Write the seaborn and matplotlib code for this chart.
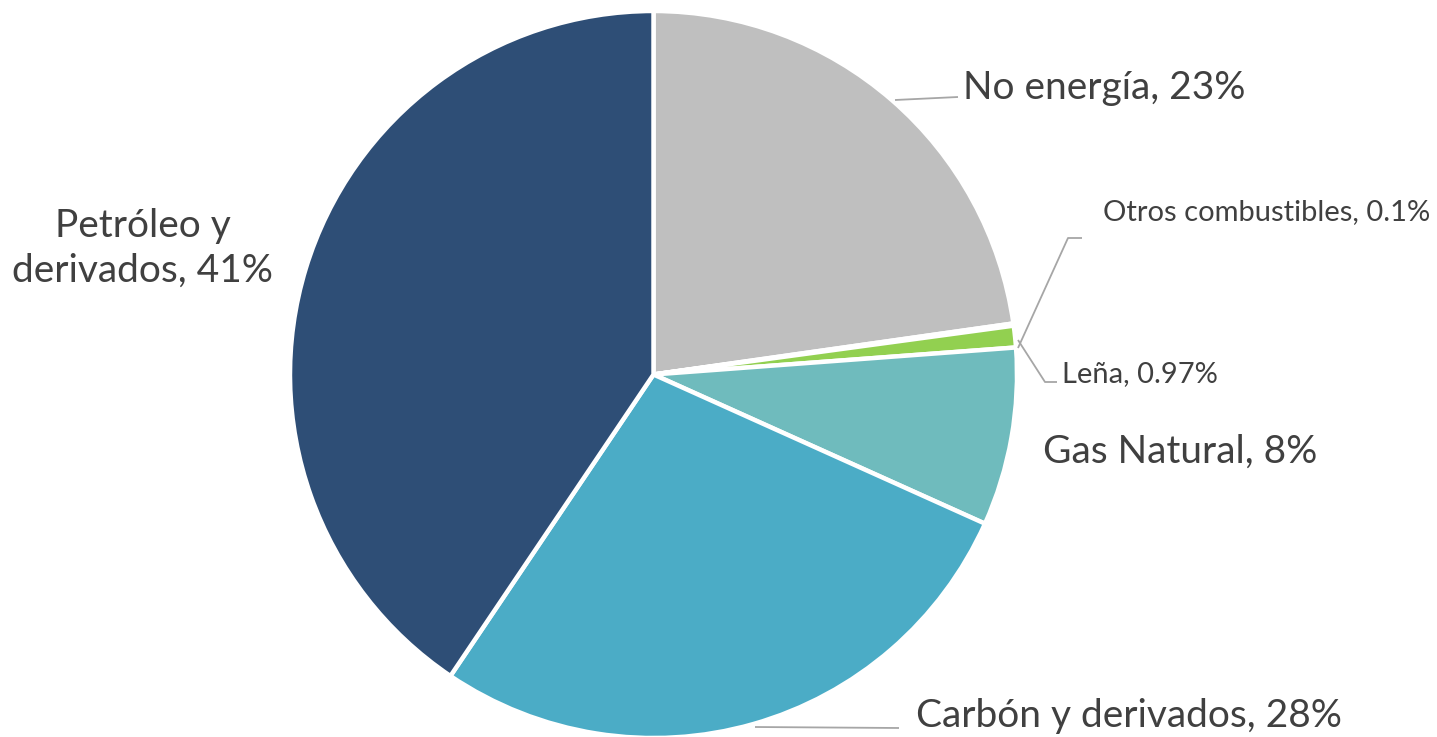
import matplotlib
matplotlib.use("Agg")
import matplotlib.pyplot as plt
import seaborn as sns

# Shares of emissions by source (%)
categories = ["No energía", "Otros combustibles", "Leña", "Gas Natural",
              "Carbón y derivados", "Petróleo y derivados"]
values = [23, 0.1, 0.97, 8, 28, 41]
value_labels = ["23%", "0.1%", "0.97%", "8%", "28%", "41%"]
colors = ["#BFBFBF", "#A9D18E", "#92D050", "#6FBBBD", "#4BACC6", "#2E4E76"]

sns.set_theme(style="white")
plt.rcParams["font.family"] = ["Lato", "DejaVu Sans"]

W, H = 1437, 737
fig = plt.figure(figsize=(W / 100, H / 100), dpi=100)
ax = fig.add_axes([0, 0, 1, 1])

cx, cy, r = 653.5, H - 374.5, 363.5
ax.pie(values, colors=colors, startangle=90, counterclock=False,
       center=(cx, cy), radius=r, frame=True,
       wedgeprops=dict(edgecolor="white", linewidth=3.2))
ax.set_xlim(0, W)
ax.set_ylim(0, H)
ax.set_aspect("equal")
ax.axis("off")

txt = "#404040"
lc = "#A6A6A6"

def py(y):
    return H - y

big = 28
small = 21

# label text positions (left x, centre y) in pixel space
label_pos = {
    "No energía": (963, 88, big),
    "Otros combustibles": (1103, 212, small),
    "Leña": (1062, 374, small),
    "Gas Natural": (1043, 452, big),
    "Carbón y derivados": (916, 716, big),
}
for cat, val in zip(categories, value_labels):
    if cat in label_pos:
        x, y, fs = label_pos[cat]
        ax.text(x, py(y), f"{cat}, {val}", fontsize=fs, color=txt,
                ha="left", va="center")

ax.text(143, py(248), "Petróleo y\nderivados, " + value_labels[5],
        fontsize=big, color=txt, ha="center", va="center", linespacing=1.3)

# leader lines
leaders = [
    [(895, 100), (958, 97)],
    [(1018, 348), (1068, 238), (1082, 238)],
    [(1018, 340), (1045, 382), (1057, 382)],
    [(755, 727), (899, 728)],
]
for pts in leaders:
    xs = [p[0] for p in pts]
    ys = [py(p[1]) for p in pts]
    ax.plot(xs, ys, color=lc, linewidth=1.3, solid_capstyle="butt")

fig.savefig("out.png", dpi=100, facecolor="white")
